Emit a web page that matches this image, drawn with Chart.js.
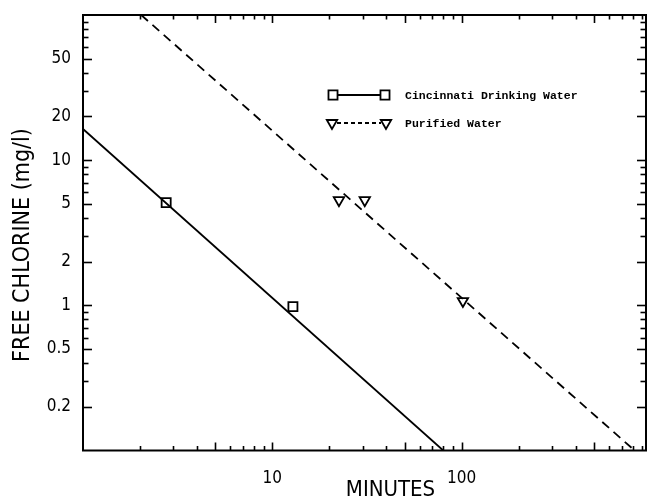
<!DOCTYPE html>
<html><head><meta charset="utf-8">
<script src="https://cdn.jsdelivr.net/npm/chart.js@4.4.0/dist/chart.umd.min.js"></script>
<style>html,body{margin:0;padding:0;background:#fff;}#wrap{width:647px;height:500px;}</style>
</head><body><div id="wrap"><canvas id="c" width="647" height="500"></canvas></div>
<script>
// ---- data ----
const seriesNames = ['Cincinnati Drinking Water', 'Purified Water'];
const cincinnatiMinutes = [2.75, 12.85];
const cincinnatiChlorine = [5.1, 0.98];
const cincinnatiFitMinutes = [1, 80];
const cincinnatiFitChlorine = [16.4, 0.1];
const purifiedMinutes = [22.5, 30.8, 101.6];
const purifiedChlorine = [5.3, 5.3, 1.07];
const purifiedFitMinutes = [2.03, 820];
const purifiedFitChlorine = [100, 0.1];
const xTickLabels = [10, 100];
const yTickLabels = [0.2, 0.5, 1, 2, 5, 10, 20, 50];
const xRange = [1, 942];
const yRange = [0.1, 100];
const xTitle = 'MINUTES';
const yTitle = 'FREE CHLORINE (mg/l)';

const pts = (xs, ys) => xs.map((v, i) => ({x: v, y: ys[i]}));
const SANS = '"Liberation Sans Narrow", "DejaVu Sans Condensed", "Liberation Sans", sans-serif';
const MONO = '"Liberation Mono", "DejaVu Sans Mono", monospace';

const near = (a, b) => Math.abs(a - b) / b < 1e-6;
const noPad = s => { s.paddingTop = 0; s.paddingBottom = 0; s.paddingLeft = 0; s.paddingRight = 0; };

const frameTicks = {
  id: 'frameTicks',
  afterDraw(chart) {
    const {ctx, chartArea: a, scales: {x, y}} = chart;
    const opts = chart.options.plugins.frameTicks;
    ctx.save();
    ctx.strokeStyle = '#000';
    const seg = (x1, y1, x2, y2) => { ctx.beginPath(); ctx.moveTo(x1, y1); ctx.lineTo(x2, y2); ctx.stroke(); };
    ctx.lineWidth = 1.6;
    for (let e = Math.floor(Math.log10(x.min)); e <= Math.ceil(Math.log10(x.max)); e++) {
      for (let m = 1; m <= 9; m++) {
        const v = m * Math.pow(10, e);
        if (v <= x.min * 1.0001 || v >= x.max) continue;
        const px = Math.round(x.getPixelForValue(v)) + 0.5;
        const len = (m === 1 || m === 5) ? 8 : 4.5;
        seg(px, a.bottom, px, a.bottom - len);
        seg(px, a.top, px, a.top + len);
      }
    }
    for (let e = Math.floor(Math.log10(y.min)); e <= Math.ceil(Math.log10(y.max)); e++) {
      for (let m = 1; m <= 9; m++) {
        const v = m * Math.pow(10, e);
        if (v <= y.min * 1.0001 || v >= y.max * 0.9999) continue;
        const py = Math.round(y.getPixelForValue(v)) + 0.5;
        const len = yTickLabels.some(t => near(v, t)) ? 9 : 5.5;
        seg(a.left, py, a.left + len, py);
        seg(a.right, py, a.right - len, py);
      }
    }
    ctx.lineWidth = 2;
    ctx.strokeRect(a.left, a.top, a.right - a.left, a.bottom - a.top);

    // axis titles (placed off-centre as in the reference)
    ctx.fillStyle = '#000';
    ctx.textAlign = 'center';
    ctx.textBaseline = 'middle';
    ctx.font = '22px ' + SANS;
    ctx.fillText(xTitle, opts.xTitlePos[0], opts.xTitlePos[1]);
    ctx.save();
    ctx.translate(opts.yTitlePos[0], opts.yTitlePos[1]);
    ctx.rotate(-Math.PI / 2);
    ctx.font = '23px ' + SANS;
    ctx.fillText(yTitle, 0, 0);
    ctx.restore();

    // legend
    opts.rows.forEach((r, i) => {
      const ds = chart.data.datasets[i];
      ctx.lineWidth = 1.8;
      ctx.strokeStyle = '#000';
      ctx.setLineDash(r.dash);
      seg(r.x1 + 5, r.y, r.x2 - 5, r.y);
      ctx.setLineDash([]);
      ctx.fillStyle = 'rgba(255,255,255,0)';
      [r.x1, r.x2].forEach(px => Chart.helpers.drawPoint(ctx, {
        pointStyle: ds.pointStyle, radius: ds.pointRadius, rotation: ds.pointRotation || 0, borderWidth: 1.8
      }, px, r.y));
      ctx.fillStyle = '#000';
      ctx.font = 'bold 11.5px ' + MONO;
      ctx.textBaseline = 'middle';
      ctx.textAlign = 'left';
      ctx.fillText(seriesNames[i], r.tx, r.y + 1);
    });
    ctx.restore();
  }
};

new Chart(document.getElementById('c'), {
  type: 'scatter',
  data: {
    datasets: [
      { label: seriesNames[0], data: pts(cincinnatiMinutes, cincinnatiChlorine),
        pointStyle: 'rect', pointRadius: 6.4, pointRotation: 0, borderColor: '#000',
        backgroundColor: 'rgba(255,255,255,0)', borderWidth: 1.8, showLine: false },
      { label: seriesNames[1], data: pts(purifiedMinutes, purifiedChlorine),
        pointStyle: 'triangle', pointRadius: 6, pointRotation: 180, borderColor: '#000',
        backgroundColor: 'rgba(255,255,255,0)', borderWidth: 1.8, showLine: false },
      { label: 'fit1', data: pts(cincinnatiFitMinutes, cincinnatiFitChlorine),
        showLine: true, pointRadius: 0, borderColor: '#000', borderWidth: 1.8 },
      { label: 'fit2', data: pts(purifiedFitMinutes, purifiedFitChlorine),
        showLine: true, pointRadius: 0, borderColor: '#000', borderWidth: 1.8, borderDash: [9, 6] }
    ]
  },
  options: {
    responsive: false, animation: false, devicePixelRatio: 1,
    layout: { autoPadding: false, padding: { left: 0, right: 1, top: 15, bottom: 0 } },
    plugins: {
      legend: { display: false }, tooltip: { enabled: false },
      frameTicks: {
        xTitlePos: [390.5, 490],
        yTitlePos: [23.5, 245],
        rows: [
          { x1: 333, x2: 385, y: 95, tx: 405, dash: [] },
          { x1: 332, x2: 386, y: 123, tx: 405, dash: [4, 3] }
        ]
      }
    },
    scales: {
      x: {
        type: 'logarithmic', position: 'bottom', min: xRange[0], max: xRange[1],
        grid: { display: false, drawTicks: false }, border: { display: false },
        afterBuildTicks: s => { s.ticks = xTickLabels.map(v => ({ value: v })); },
        afterFit: s => { s.height = 49.5; noPad(s); },
        ticks: { color: '#000', font: { family: SANS, size: 17 }, padding: 18, maxRotation: 0, autoSkip: false,
          callback: v => String(v) },
        title: { display: false, text: xTitle }
      },
      y: {
        type: 'logarithmic', position: 'left', min: yRange[0], max: yRange[1],
        grid: { display: false, drawTicks: false }, border: { display: false },
        afterBuildTicks: s => { s.ticks = yTickLabels.map(v => ({ value: v })); },
        afterFit: s => { s.width = 83; noPad(s); },
        ticks: { color: '#000', font: { family: SANS, size: 17 }, padding: 12, autoSkip: false,
          callback: v => String(v) },
        title: { display: false, text: yTitle }
      }
    }
  },
  plugins: [frameTicks]
});
</script>
</body></html>
